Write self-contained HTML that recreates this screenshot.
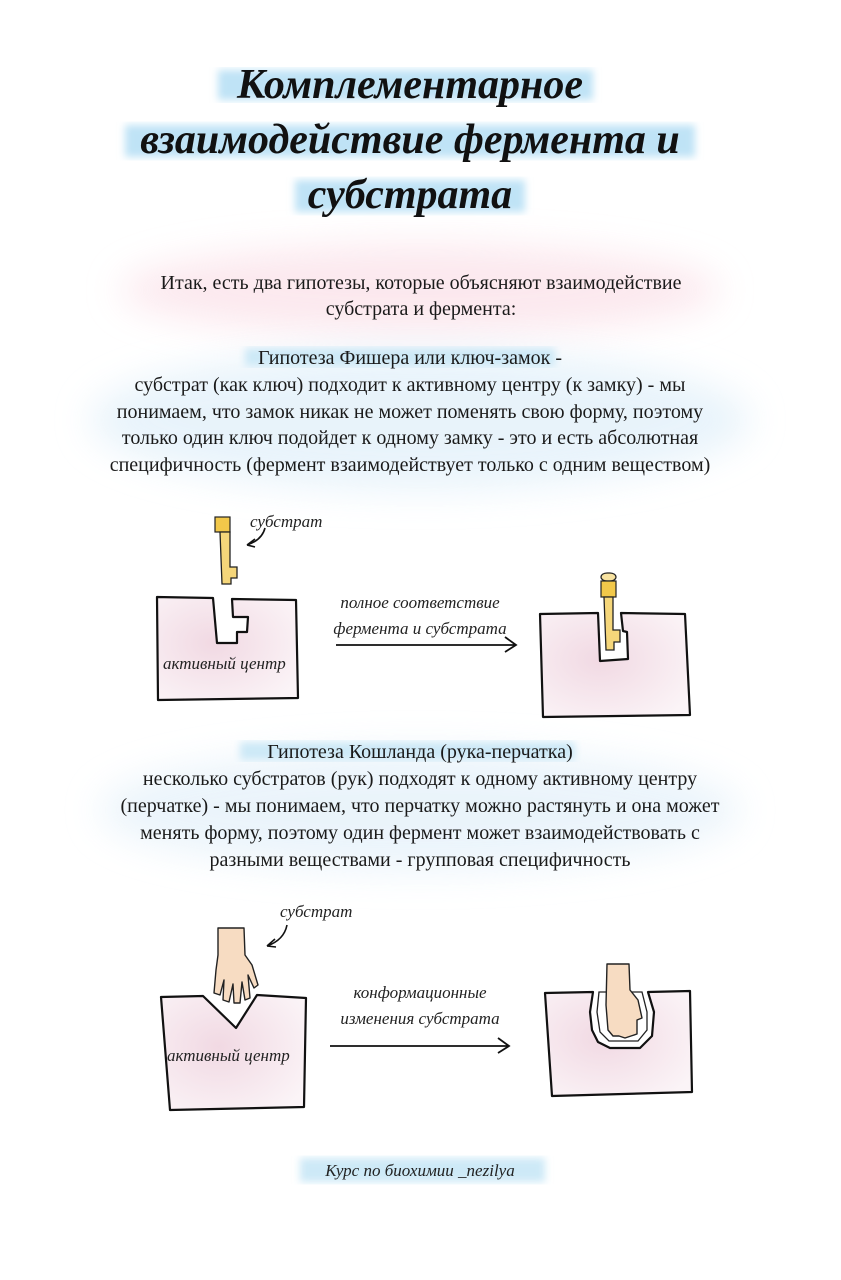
<!DOCTYPE html>
<html><head><meta charset="utf-8"><style>
html,body{margin:0;padding:0;background:#fff}
svg{display:block}
.t{font-family:"Liberation Serif",serif;font-style:italic;font-weight:bold;font-size:42px;fill:#111}
.b{font-family:"Liberation Serif",serif;font-size:20px;fill:#1a1a1a}
.s{font-family:"Liberation Serif",serif;font-style:italic;font-size:17px;fill:#222}
</style></head><body>
<svg width="841" height="1280" viewBox="0 0 841 1280" xmlns="http://www.w3.org/2000/svg">
<defs>
<filter id="bl" x="-50%" y="-50%" width="200%" height="200%"><feGaussianBlur stdDeviation="18"/></filter>
<filter id="bl2"><feGaussianBlur stdDeviation="4"/></filter>
<radialGradient id="pk" cx="40%" cy="45%" r="70%"><stop offset="0" stop-color="#f1d9e3"/><stop offset="1" stop-color="#fbf4f7"/></radialGradient>
</defs>
<ellipse cx="420" cy="290" rx="300" ry="45" fill="#fbe3ea" filter="url(#bl)" opacity=".8"/>
<ellipse cx="420" cy="420" rx="330" ry="70" fill="#e3f1fa" filter="url(#bl)" opacity=".8"/>
<ellipse cx="420" cy="810" rx="320" ry="60" fill="#e6f2fa" filter="url(#bl)" opacity=".8"/>
<rect x="218" y="70" width="375" height="30" fill="#bfe3f6" filter="url(#bl2)"/>
<rect x="125" y="125" width="570" height="32" fill="#bfe3f6" filter="url(#bl2)"/>
<rect x="295" y="180" width="230" height="32" fill="#bfe3f6" filter="url(#bl2)"/>
<text class="t" x="410" y="98" text-anchor="middle">Комплементарное</text>
<text class="t" x="410" y="153" text-anchor="middle">взаимодействие фермента и</text>
<text class="t" x="410" y="208" text-anchor="middle">субстрата</text>
<text class="b" x="421" y="289" text-anchor="middle">Итак, есть два гипотезы, которые объясняют взаимодействие</text>
<text class="b" x="421" y="315" text-anchor="middle">субстрата и фермента:</text>
<rect x="245" y="348" width="310" height="18" fill="#cde9f7" filter="url(#bl2)"/>
<text class="b" x="410" y="364" text-anchor="middle">Гипотеза Фишера или ключ-замок -</text>
<text class="b" x="410" y="391" text-anchor="middle">субстрат (как ключ) подходит к активному центру (к замку) - мы</text>
<text class="b" x="410" y="418" text-anchor="middle">понимаем, что замок никак не может поменять свою форму, поэтому</text>
<text class="b" x="410" y="444" text-anchor="middle">только один ключ подойдет к одному замку - это и есть абсолютная</text>
<text class="b" x="410" y="471" text-anchor="middle">специфичность (фермент взаимодействует только с одним веществом)</text>

<path d="M157,597 L213,598 L217,643 L237,643 L237,632 L247,632 L248,617 L233,617 L232,599 L296,600 L298,698 L158,700 Z" fill="url(#pk)" stroke="#111" stroke-width="2.2" stroke-linejoin="round"/>
<rect x="215" y="517" width="15" height="15" fill="#f2c84a" stroke="#222" stroke-width="1.2"/>
<path d="M220,532 L230,532 L230,567 L237,567 L237,578 L231,578 L231,584 L222,584 Z" fill="#f5d67a" stroke="#222" stroke-width="1.3"/>
<text class="s" x="250" y="527">субстрат</text>
<path d="M265,528 Q262,540 247,545 M247,545 l8,-6 M247,545 l8,2" fill="none" stroke="#111" stroke-width="1.6"/>
<text class="s" x="163" y="669">активный центр</text>
<text class="s" x="420" y="608" text-anchor="middle">полное соответствие</text>
<text class="s" x="420" y="634" text-anchor="middle">фермента и субстрата</text>
<path d="M336,645 L516,645 M505,637 L516,645 L505,652" fill="none" stroke="#111" stroke-width="1.8"/>
<path d="M540,614 L598,613 L600,661 L628,659 L627,632 L623,631 L621,613 L685,614 L690,715 L543,717 Z" fill="url(#pk)" stroke="#111" stroke-width="2.2" stroke-linejoin="round"/>
<rect x="601" y="573" width="15" height="8" rx="6" fill="#f7e2a0" stroke="#222" stroke-width="1.2"/>
<rect x="601" y="581" width="15" height="16" fill="#f2c84a" stroke="#222" stroke-width="1.2"/>
<path d="M604,597 L613,597 L613,630 L620,630 L620,642 L614,642 L614,650 L606,650 Z" fill="#f5d67a" stroke="#222" stroke-width="1.3"/>

<rect x="240" y="742" width="335" height="18" fill="#cde9f7" filter="url(#bl2)"/>
<text class="b" x="420" y="758" text-anchor="middle">Гипотеза Кошланда (рука-перчатка)</text>
<text class="b" x="420" y="785" text-anchor="middle">несколько субстратов (рук) подходят к одному активному центру</text>
<text class="b" x="420" y="812" text-anchor="middle">(перчатке) - мы понимаем, что перчатку можно растянуть и она может</text>
<text class="b" x="420" y="839" text-anchor="middle">менять форму, поэтому один фермент может взаимодействовать с</text>
<text class="b" x="420" y="866" text-anchor="middle">разными веществами - групповая специфичность</text>

<path d="M161,997 L203,996 L236,1028 L257,995 L306,998 L304,1107 L170,1110 Z" fill="url(#pk)" stroke="#111" stroke-width="2.2" stroke-linejoin="round"/>
<path d="M218,928 L244,928 L245,955 L252,965 L258,985 L254,988 L248,975 L250,998 L245,1000 L242,982 L240,1003 L234,1003 L233,984 L229,1002 L223,1000 L224,980 L220,995 L214,993 L216,970 L218,955 Z" fill="#f7dcc2" stroke="#222" stroke-width="1.4" stroke-linejoin="round"/>
<text class="s" x="280" y="917">субстрат</text>
<path d="M287,925 Q284,940 267,946 M267,946 l8,-7 M267,946 l9,1" fill="none" stroke="#111" stroke-width="1.6"/>
<text class="s" x="167" y="1061">активный центр</text>
<text class="s" x="420" y="998" text-anchor="middle">конформационные</text>
<text class="s" x="420" y="1024" text-anchor="middle">изменения субстрата</text>
<path d="M330,1046 L509,1046 M498,1038 L509,1046 L498,1053" fill="none" stroke="#111" stroke-width="1.8"/>
<!-- right glove box -->
<path d="M545,993 L593,992 L590,1012 L592,1030 L598,1042 L610,1048 L640,1048 L652,1036 L654,1012 L648,992 L690,991 L692,1092 L552,1096 Z" fill="url(#pk)" stroke="#111" stroke-width="2.2" stroke-linejoin="round"/>
<path d="M599,992 L597,1012 L600,1032 L609,1041 L638,1041 L647,1030 L647,1012 L642,992 Z" fill="#fff" stroke="#222" stroke-width="1.3"/>
<path d="M607,964 L629,964 L630,990 L638,1000 L642,1018 L637,1020 L637,1034 L631,1036 L625,1038 L619,1036 L613,1036 L608,1030 L606,1005 Z" fill="#f7dcc2" stroke="#222" stroke-width="1.4" stroke-linejoin="round"/>

<rect x="300" y="1158" width="245" height="24" fill="#cde9f7" filter="url(#bl2)"/>
<text class="s" x="420" y="1176" text-anchor="middle">Курс по биохимии _nezilya</text>
</svg>
</body></html>
